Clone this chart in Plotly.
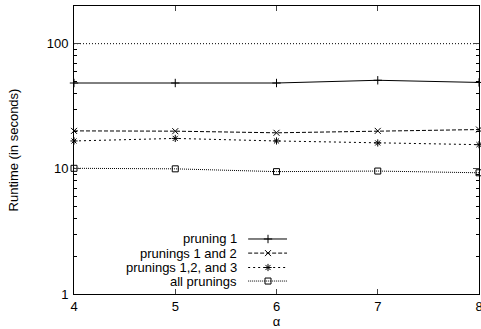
import plotly.graph_objects as go

# ---- data ----
alpha = [4, 5, 6, 7, 8]
series_names = ["pruning 1", "prunings 1 and 2", "prunings 1,2, and 3", "all prunings"]
pruning_1 = [48.5, 48.5, 48.5, 51.0, 49.0]
prunings_12 = [20.1, 20.0, 19.4, 20.1, 20.6]
prunings_123 = [16.7, 17.5, 16.7, 16.1, 15.6]
all_prunings = [10.1, 10.0, 9.5, 9.6, 9.3]
timeout = [100, 100, 100, 100, 100]

x_ticks = [4, 5, 6, 7, 8]
y_ticks = [1, 10, 100]
y_minor = [2, 3, 4, 5, 6, 7, 8, 9, 20, 30, 40, 50, 60, 70, 80, 90, 200]

FONT = "Liberation Sans, Arial, sans-serif"
FS = 13
styles = [
    dict(dash="solid", symbol="cross-thin-open"),
    dict(dash="4px,2px", symbol="x-thin-open"),
    dict(dash="2px,3px", symbol="asterisk-open"),
    dict(dash="1px,1px", symbol="square-open"),
]
values = [pruning_1, prunings_12, prunings_123, all_prunings]

fig = go.Figure()

# dotted reference line at 100 s
fig.add_trace(go.Scatter(
    x=alpha, y=timeout, mode="lines", showlegend=False, hoverinfo="skip",
    line=dict(color="black", width=1, dash="1px,2px"),
))

for name, ys, st in zip(series_names, values, styles):
    fig.add_trace(go.Scatter(
        x=alpha, y=ys, mode="lines+markers", name=name, showlegend=False,
        line=dict(color="black", width=1, dash=st["dash"]),
        marker=dict(symbol=st["symbol"], size=6, color="black",
                    line=dict(color="black", width=1)),
        cliponaxis=False,
    ))

# ---- gnuplot-style key: text right-aligned, sample on the right ----
key_y = [0.191, 0.142, 0.092, 0.045]
for name, st, ky in zip(series_names, styles, key_y):
    fig.add_trace(go.Scatter(
        x=[0.430, 0.526], y=[ky, ky], xaxis="x2", yaxis="y2",
        mode="lines", showlegend=False, hoverinfo="skip",
        line=dict(color="black", width=1, dash=st["dash"]),
    ))
    fig.add_trace(go.Scatter(
        x=[0.479], y=[ky], xaxis="x2", yaxis="y2",
        mode="markers", showlegend=False, hoverinfo="skip",
        marker=dict(symbol=st["symbol"], size=6, color="black",
                    line=dict(color="black", width=1)),
    ))
    fig.add_annotation(
        xref="x2", yref="y2", x=0.407, y=ky, text=name, showarrow=False,
        xanchor="right", yanchor="middle", font=dict(size=FS, color="black"),
    )

fig.update_layout(
    width=481, height=329,
    margin=dict(l=74, r=2, t=6, b=35),
    paper_bgcolor="white", plot_bgcolor="white",
    font=dict(family=FONT, size=FS, color="black"),
    xaxis=dict(
        range=[4, 8], tickvals=x_ticks, ticks="inside", ticklen=5,
        showline=True, linecolor="black", linewidth=1, mirror="allticks",
        showgrid=False, zeroline=False, automargin=False,
        ticklabelstandoff=0, ticklabeloverflow="allow",
        title=dict(text="α", standoff=9, font=dict(size=FS)),
    ),
    yaxis=dict(
        type="log", range=[0, 2.301], tickvals=y_ticks, ticktext=["1", "10", "100"],
        ticks="inside", ticklen=6, showline=True, linecolor="black", linewidth=1,
        mirror="allticks", showgrid=False, zeroline=False, automargin=False,
        ticklabelstandoff=2,
        minor=dict(tickvals=y_minor, ticks="inside", ticklen=3, tickcolor="black"),
        title=dict(text="Runtime (in seconds)", standoff=25, font=dict(size=FS)),
    ),
    xaxis2=dict(range=[0, 1], overlaying="x", visible=False, fixedrange=True),
    yaxis2=dict(range=[0, 1], overlaying="y", visible=False, fixedrange=True),
)

fig.write_html(
    "out.html",
    config={"displayModeBar": False},
    post_script="document.body.style.margin='0';",
)
